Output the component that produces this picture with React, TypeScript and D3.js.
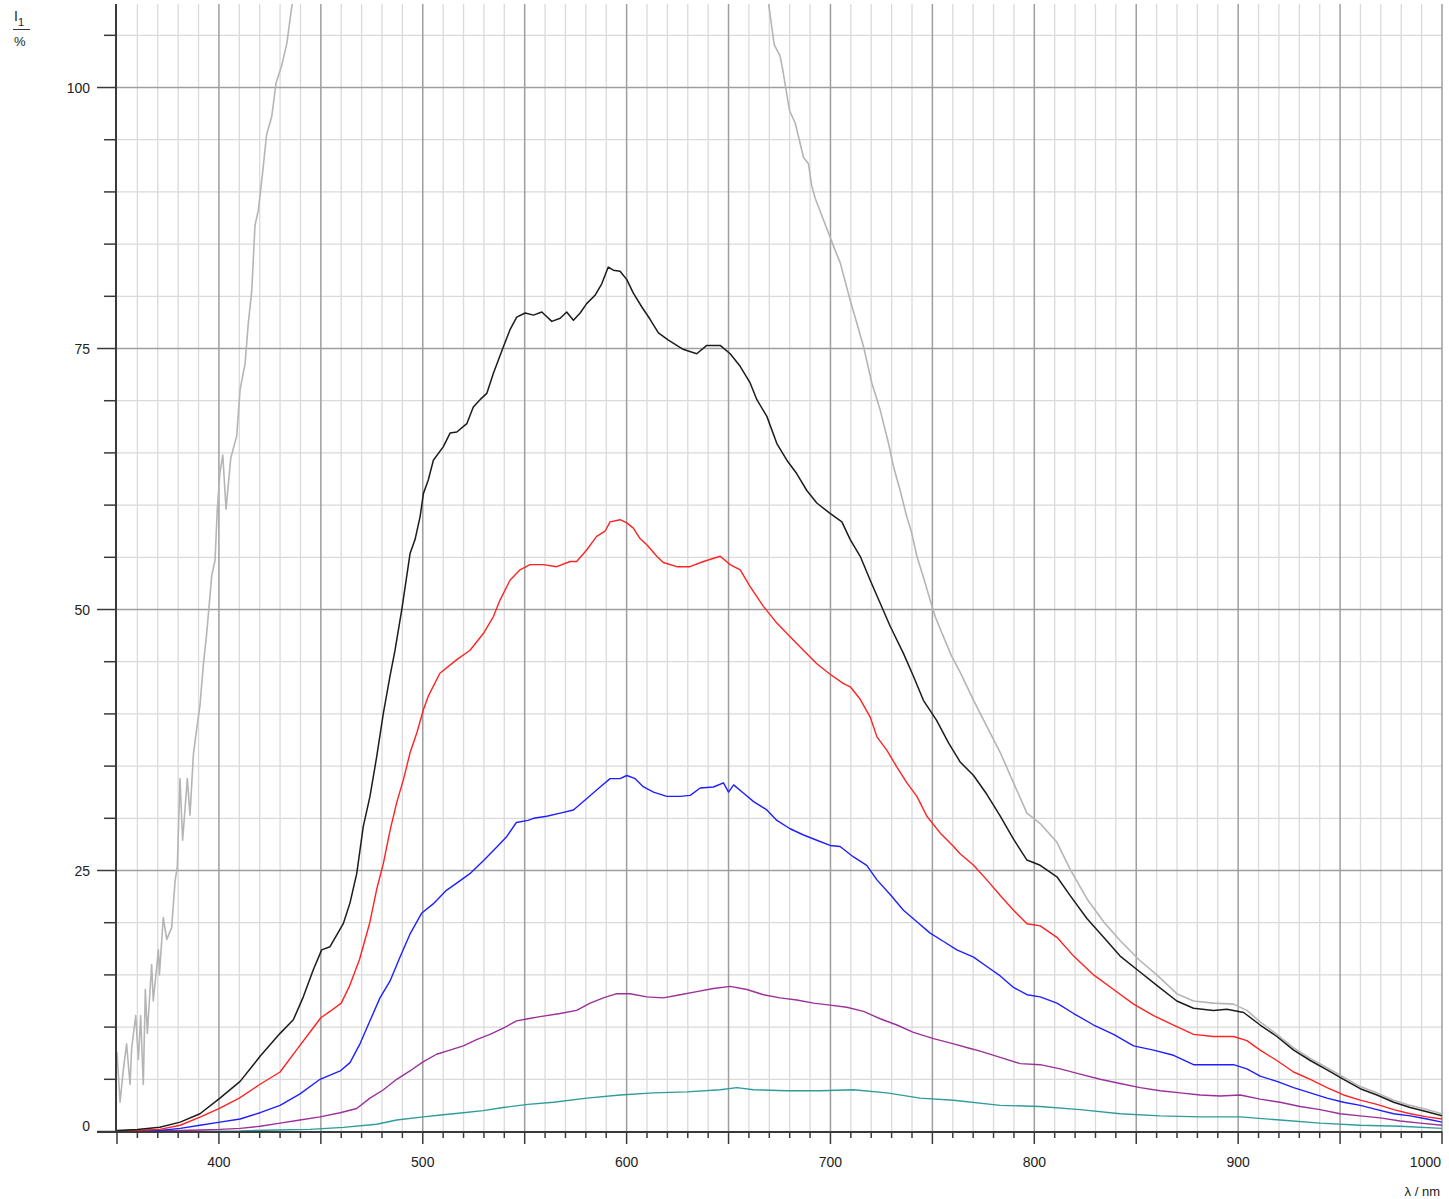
import React, { useEffect, useRef } from "react";
import * as d3 from "d3";

// Canvas / plot frame
const WIDTH = 1449;
const HEIGHT = 1199;
const PLOT_LEFT = 117;
const PLOT_RIGHT = 1442;
const PLOT_TOP = 4;
const PLOT_BOTTOM = 1131.5;
const FONT = "'Liberation Sans', Arial, sans-serif";

// Axis domains and tick labels
const X_DOMAIN: [number, number] = [350, 1000];
const Y_DOMAIN: [number, number] = [0, 108];
const xLabelTicks = [400, 500, 600, 700, 800, 900, 1000];
const yLabelTicks = [0, 25, 50, 75, 100];

type Pt = [number, number];

// Spectra, [wavelength nm, intensity %]
const graySpectrum: Pt[] = [
  [350, 7.6], [351.5, 2.8], [353.1, 5.9], [354.7, 8.4], [356.4, 4.5], [357.2, 8.0], [359.2, 11.1],
  [360.5, 6.9], [361.6, 11.1], [362.9, 4.5], [363.9, 13.6], [364.9, 9.4], [367, 16.0], [367.8, 12.5],
  [370.3, 17.4], [370.8, 15.0], [372.7, 20.5], [374.4, 18.4], [376.8, 19.5], [378.5, 24.0], [379.6, 25.4],
  [380.9, 33.8], [382.2, 27.9], [384.5, 33.8], [385.8, 30.3], [387.5, 36.2], [389.4, 39.0], [390.7, 40.8],
  [392.3, 44.6], [394, 47.7], [396.5, 53.3], [398.1, 54.7], [399.2, 59.6], [400.5, 63.1], [401.9, 64.8],
  [403.5, 59.6], [405.8, 64.5], [408.7, 66.6], [410.4, 71.1], [412.8, 73.5], [414.4, 77.4], [416.1, 80.5],
  [417.7, 86.8], [419.3, 88.2], [421.3, 91.6], [423.4, 95.5], [425.9, 97.2], [428, 100.4], [430.8, 102.1],
  [433.3, 104.2], [435.7, 107.7], [445, 118], [470, 135], [500, 148], [550, 158], [600, 158], [640, 140],
  [660, 120], [669.6, 108.1], [671.2, 105.8], [672.4, 104.1], [675.3, 103.0], [676.6, 101.7], [678.2, 99.8],
  [679.9, 97.8], [682.7, 96.6], [684.8, 94.9], [686.8, 93.3], [689.2, 92.7], [690.8, 90.6], [692.5, 89.4],
  [702.3, 84.4], [704.8, 83.2], [709.7, 79.6], [712.1, 78.0], [716.2, 75.2], [720.3, 71.7], [724.4, 69.1],
  [728.5, 65.9], [730.9, 63.7], [734.2, 61.4], [737.4, 58.9], [739.9, 57.3], [742.4, 55.1], [745.6, 53.1],
  [748.9, 50.9], [751.4, 49.3], [755.4, 47.4], [759.5, 45.5], [763.6, 44.0], [770.2, 41.3], [776.7, 38.8],
  [783.3, 36.3], [789.8, 33.4], [796.4, 30.5], [802.9, 29.5], [811.1, 27.7], [817.6, 25.1], [825.8, 22.3],
  [834, 20.1], [842.1, 18.3], [851.1, 16.5], [860.1, 15.0], [869.9, 13.2], [878.1, 12.5], [887.9, 12.3],
  [897.7, 12.2], [904.3, 11.6], [910.8, 10.5], [919, 9.3], [927.2, 8.0], [935.4, 7.0], [943.6, 6.1],
  [951.7, 5.2], [959.9, 4.3], [968.1, 3.7], [976.3, 3.0], [984.4, 2.5], [992.6, 2.1], [1000, 1.7],
];

const blackSpectrum: Pt[] = [
  [350, 0.1], [360, 0.2], [371, 0.4], [381, 0.9], [390.7, 1.7], [400.5, 3.2], [410.4, 4.8], [420.2, 7.2],
  [430, 9.4], [436.5, 10.7], [441.4, 12.9], [446.3, 15.5], [450.4, 17.4], [454.5, 17.7], [461, 19.9],
  [464.3, 21.9], [467.6, 24.7], [470.8, 29.2], [474.1, 32.1], [477.4, 35.9], [480.7, 40.1], [483.9, 43.6],
  [486.4, 46.1], [489.7, 50.0], [493.8, 55.4], [496.2, 56.7], [498.7, 58.9], [500.3, 61.1], [502.7, 62.4],
  [505.2, 64.3], [510.1, 65.6], [513.4, 66.9], [516.7, 67.0], [521.6, 67.8], [524.8, 69.4], [528.1, 70.1],
  [531.4, 70.7], [534.6, 72.6], [537.1, 73.9], [539.6, 75.2], [542.8, 76.8], [546.1, 78.0], [550.2, 78.4],
  [554.3, 78.2], [558.4, 78.5], [563.3, 77.6], [567.4, 77.9], [570.6, 78.5], [573.9, 77.7], [577.2, 78.4],
  [580.4, 79.3], [584.5, 80.1], [587.8, 81.2], [591.0, 82.8], [593.5, 82.5], [596.8, 82.4], [600.1, 81.6],
  [603.3, 80.3], [607.4, 79.0], [611.5, 77.8], [615.6, 76.5], [620.5, 75.8], [625.4, 75.2], [628, 74.9],
  [634.4, 74.5], [639.3, 75.3], [645.9, 75.3], [650.8, 74.5], [655.7, 73.3], [660.6, 71.7], [663.9, 70.1],
  [668.8, 68.5], [673.7, 65.9], [678.6, 64.3], [683.5, 63.0], [688.4, 61.4], [693.3, 60.2], [699.8, 59.2],
  [705.6, 58.4], [709.7, 56.7], [714.6, 55.1], [719.5, 52.8], [724.4, 50.6], [729.3, 48.4], [735.8, 45.8],
  [740.7, 43.6], [745.6, 41.3], [752, 39.4], [758, 37.2], [763.6, 35.4], [770.2, 34.1], [776.7, 32.3],
  [783.3, 30.2], [789.8, 28.0], [796.4, 26.0], [802.9, 25.5], [811.1, 24.4], [817.6, 22.6], [825.8, 20.4],
  [834, 18.6], [842.1, 16.8], [851.1, 15.4], [860.1, 14.0], [869.9, 12.5], [878.1, 11.8], [887.9, 11.6],
  [894.5, 11.7], [902.7, 11.4], [910.8, 10.2], [919, 9.1], [927.2, 7.8], [935.4, 6.8], [943.6, 5.9],
  [951.7, 5.0], [959.9, 4.1], [968.1, 3.5], [976.3, 2.8], [984.4, 2.3], [992.6, 1.9], [1000, 1.5],
];

const redSpectrum: Pt[] = [
  [350, 0.05], [371, 0.2], [381, 0.6], [391, 1.4], [400, 2.2], [410, 3.2], [420, 4.5], [430, 5.7],
  [438, 7.8], [445, 9.6], [450, 10.9], [454.5, 11.5], [460, 12.3], [464, 13.9], [469, 16.5], [474, 20.0],
  [477.4, 23.2], [480.7, 25.7], [484, 28.9], [487.2, 31.5], [490.5, 33.7], [493.8, 36.3], [497.1, 38.2],
  [500.3, 40.4], [502.7, 41.7], [508.4, 43.9], [516.7, 45.2], [523.2, 46.1], [529.7, 47.7], [534.6, 49.3],
  [537.9, 50.9], [542.8, 52.8], [547.7, 53.8], [552.6, 54.3], [559.2, 54.3], [565.7, 54.1], [572.3, 54.6],
  [575.5, 54.6], [580.4, 55.7], [585.3, 57.0], [589.4, 57.5], [591.9, 58.4], [596.8, 58.6], [600.1, 58.3],
  [603.3, 57.8], [606.6, 56.8], [609.9, 56.2], [614.8, 55.1], [618, 54.5], [624.6, 54.1], [631.1, 54.1],
  [637.7, 54.6], [645.9, 55.1], [650.8, 54.3], [655.7, 53.8], [660.6, 52.2], [667.1, 50.3], [673.7, 48.7],
  [680.2, 47.4], [686.7, 46.1], [693.3, 44.8], [699.8, 43.8], [706.4, 42.9], [709.7, 42.6], [714.6, 41.4],
  [719.5, 39.7], [722.8, 37.8], [727.7, 36.5], [732.6, 34.9], [737.5, 33.4], [742.4, 32.1], [747.3, 30.2],
  [753.8, 28.6], [760.4, 27.3], [763.6, 26.6], [770.2, 25.5], [776.7, 24.1], [783.3, 22.6], [789.8, 21.2],
  [796.4, 19.9], [802.9, 19.7], [811.1, 18.6], [819.3, 16.8], [829.1, 15.0], [838.9, 13.6], [848.7, 12.2],
  [858.5, 11.1], [868.3, 10.2], [878.1, 9.3], [887.9, 9.1], [897.7, 9.1], [904.3, 8.7], [910.8, 7.8],
  [919, 6.8], [927.2, 5.7], [935.4, 5.0], [943.6, 4.2], [951.7, 3.5], [959.9, 3.0], [968.1, 2.6],
  [976.3, 2.1], [984.4, 1.7], [992.6, 1.4], [1000, 1.2],
];

const blueSpectrum: Pt[] = [
  [350, 0.03], [371, 0.1], [381, 0.3], [390.7, 0.6], [400.5, 0.9], [410.4, 1.2], [420.2, 1.8], [430, 2.5],
  [439.8, 3.6], [449.6, 5.0], [459.5, 5.8], [464.3, 6.6], [469.2, 8.4], [474.1, 10.6], [479, 12.8],
  [483.9, 14.4], [488.8, 16.7], [493.7, 18.9], [499.4, 20.9], [505.1, 21.8], [511.6, 23.1], [518.2, 24.0],
  [523.1, 24.7], [529.6, 25.9], [536.1, 27.2], [541, 28.2], [545.9, 29.6], [551.6, 29.8], [554.3, 30.0],
  [560.8, 30.2], [567.4, 30.5], [573.9, 30.8], [580.5, 31.9], [587.0, 33.0], [591.9, 33.8], [596.8, 33.8],
  [600.1, 34.1], [604.2, 33.8], [608.3, 33.0], [613.2, 32.5], [619.7, 32.1], [626.3, 32.1], [631.2, 32.2],
  [636.1, 32.9], [642.6, 33.0], [647.5, 33.4], [650, 32.5], [652.5, 33.2], [657.4, 32.4], [662.3, 31.6],
  [668.8, 30.8], [673.7, 29.8], [680.2, 29.0], [686.8, 28.4], [693.3, 27.9], [699.8, 27.4], [704.7, 27.3],
  [711.3, 26.3], [717.8, 25.5], [722.8, 24.1], [729.3, 22.7], [735.8, 21.2], [742.4, 20.1], [748.9, 19.0],
  [755.5, 18.2], [762, 17.4], [770.2, 16.7], [776.7, 15.8], [783.3, 14.9], [789.8, 13.8], [796.4, 13.1],
  [802.9, 12.9], [811.1, 12.3], [819.3, 11.3], [829.1, 10.2], [838.9, 9.3], [848.7, 8.2], [858.5, 7.8],
  [868.3, 7.3], [878.1, 6.4], [887.9, 6.4], [897.7, 6.4], [904.3, 6.0], [910.8, 5.3], [919, 4.8],
  [927.2, 4.2], [935.4, 3.7], [943.6, 3.2], [951.7, 2.8], [959.9, 2.5], [968.1, 2.1], [976.3, 1.7],
  [984.4, 1.5], [992.6, 1.2], [1000, 0.9],
];

const purpleSpectrum: Pt[] = [
  [350, 0.0], [371, 0.05], [390.7, 0.15], [400.5, 0.2], [410.4, 0.3], [420.2, 0.5], [430, 0.8],
  [439.8, 1.1], [449.6, 1.4], [459.5, 1.8], [467.6, 2.2], [474.1, 3.2], [480.7, 4.0], [487.2, 5.0],
  [493.7, 5.8], [500.3, 6.7], [506.8, 7.4], [513.3, 7.8], [519.9, 8.2], [526.4, 8.8], [533, 9.3],
  [539.5, 9.9], [546, 10.6], [551.6, 10.8], [557.5, 11.0], [567.4, 11.3], [575.5, 11.6], [582.1, 12.3],
  [588.6, 12.8], [595.2, 13.2], [601.7, 13.2], [609.9, 12.9], [618.0, 12.8], [626.3, 13.1], [634.4, 13.4],
  [642.6, 13.7], [650.8, 13.9], [659, 13.6], [667.1, 13.1], [675.3, 12.8], [683.5, 12.6], [691.7, 12.3],
  [699.8, 12.1], [708.0, 11.9], [716.2, 11.5], [724.4, 10.8], [732.6, 10.2], [740.7, 9.5], [750.6, 8.9],
  [760.4, 8.4], [767.7, 8.0], [773.4, 7.7], [783.3, 7.1], [793.1, 6.5], [802.9, 6.4], [812.7, 6.0],
  [822.5, 5.5], [832.3, 5.0], [842.1, 4.6], [851.9, 4.2], [861.8, 3.9], [871.6, 3.7], [881.4, 3.5],
  [891.2, 3.4], [901, 3.5], [910.8, 3.1], [920.6, 2.8], [930.4, 2.4], [940.2, 2.1], [950, 1.7],
  [959.9, 1.5], [969.7, 1.3], [979.5, 1.0], [989.3, 0.8], [1000, 0.6],
];

const tealSpectrum: Pt[] = [
  [350, 0.0], [380, 0.02], [410.4, 0.05], [428, 0.15], [444.7, 0.2], [461, 0.4], [477.4, 0.7],
  [487.2, 1.1], [500.3, 1.4], [510.1, 1.6], [519.9, 1.8], [529.6, 2.0], [539.5, 2.3], [551.6, 2.6],
  [564.1, 2.8], [580.5, 3.2], [596.8, 3.5], [613.2, 3.7], [629.5, 3.8], [645.9, 4.0], [654.1, 4.2],
  [662.2, 4.0], [678.6, 3.9], [695, 3.9], [711.3, 4.0], [727.7, 3.7], [744, 3.2], [760.4, 3.0],
  [783.3, 2.5], [802.9, 2.4], [822.5, 2.1], [842.1, 1.7], [861.8, 1.5], [881.4, 1.4], [901, 1.4],
  [920.6, 1.1], [940.2, 0.8], [959.9, 0.6], [979.5, 0.5], [1000, 0.3],
];

const seriesList = [
  { name: "gray", data: graySpectrum, color: "#b5b5b5", width: 1.6 },
  { name: "teal", data: tealSpectrum, color: "#2e9c9c", width: 1.4 },
  { name: "purple", data: purpleSpectrum, color: "#9b309b", width: 1.4 },
  { name: "blue", data: blueSpectrum, color: "#1f1fff", width: 1.4 },
  { name: "red", data: redSpectrum, color: "#ff2222", width: 1.4 },
  { name: "black", data: blackSpectrum, color: "#1c1c1c", width: 1.5 },
];

export default function App() {
  const svgRef = useRef<SVGSVGElement | null>(null);

  useEffect(() => {
    drawChart();
  }, []);

  function drawChart() {
    const svg = d3.select(svgRef.current);
    svg.selectAll("*").remove();

    const x = d3.scaleLinear().domain(X_DOMAIN).range([PLOT_LEFT, PLOT_RIGHT]);
    const y = d3.scaleLinear().domain(Y_DOMAIN).range([PLOT_BOTTOM, PLOT_TOP]);

    svg.append("rect").attr("width", WIDTH).attr("height", HEIGHT).attr("fill", "#fff");

    // Grid: minor every 10 nm / 5 %, major every 50 nm / 25 %
    const xMinor = d3.range(350, 1001, 10).filter((v) => v % 50 !== 0);
    const xMajor = d3.range(350, 1001, 50);
    const yMinor = d3.range(5, 106, 5).filter((v) => v % 25 !== 0);
    const yMajor = d3.range(25, 101, 25);

    const grid = svg.append("g");
    grid.selectAll(".vminor").data(xMinor).enter().append("line")
      .attr("x1", (d) => x(d)).attr("x2", (d) => x(d))
      .attr("y1", PLOT_TOP).attr("y2", PLOT_BOTTOM)
      .attr("stroke", "#dadada").attr("stroke-width", 1.3);
    grid.selectAll(".hminor").data(yMinor).enter().append("line")
      .attr("x1", PLOT_LEFT).attr("x2", PLOT_RIGHT)
      .attr("y1", (d) => y(d)).attr("y2", (d) => y(d))
      .attr("stroke", "#dadada").attr("stroke-width", 1.3);
    grid.selectAll(".vmajor").data(xMajor.filter((v) => v !== 350)).enter().append("line")
      .attr("x1", (d) => x(d)).attr("x2", (d) => x(d))
      .attr("y1", PLOT_TOP).attr("y2", PLOT_BOTTOM)
      .attr("stroke", "#9e9e9e").attr("stroke-width", 1.5);
    grid.selectAll(".hmajor").data(yMajor).enter().append("line")
      .attr("x1", PLOT_LEFT).attr("x2", PLOT_RIGHT)
      .attr("y1", (d) => y(d)).attr("y2", (d) => y(d))
      .attr("stroke", "#9e9e9e").attr("stroke-width", 1.5);

    // Curves, clipped to the plot area
    svg.append("defs").append("clipPath").attr("id", "plot-clip")
      .append("rect")
      .attr("x", PLOT_LEFT).attr("y", PLOT_TOP)
      .attr("width", PLOT_RIGHT - PLOT_LEFT).attr("height", PLOT_BOTTOM - PLOT_TOP);

    const line = d3.line<Pt>().x((d) => x(d[0])).y((d) => y(d[1]));
    const curves = svg.append("g").attr("clip-path", "url(#plot-clip)");
    seriesList.forEach((s) => {
      curves.append("path")
        .attr("d", line(s.data))
        .attr("fill", "none")
        .attr("stroke", s.color)
        .attr("stroke-width", s.width)
        .attr("stroke-linejoin", "round");
    });

    // Axes
    const axisColor = "#3a3a3a";
    svg.append("line")
      .attr("x1", PLOT_LEFT - 1).attr("x2", PLOT_LEFT - 1)
      .attr("y1", PLOT_TOP).attr("y2", PLOT_BOTTOM + 1)
      .attr("stroke", axisColor).attr("stroke-width", 2);
    svg.append("line")
      .attr("x1", 97).attr("x2", PLOT_RIGHT)
      .attr("y1", PLOT_BOTTOM + 0.5).attr("y2", PLOT_BOTTOM + 0.5)
      .attr("stroke", axisColor).attr("stroke-width", 2);

    const yTicks = d3.range(0, 106, 5);
    svg.selectAll(".ytick").data(yTicks).enter().append("line")
      .attr("x1", (d) => (d % 25 === 0 ? 97 : 104)).attr("x2", PLOT_LEFT - 1)
      .attr("y1", (d) => y(d)).attr("y2", (d) => y(d))
      .attr("stroke", axisColor).attr("stroke-width", 1.5);

    const xTicks = d3.range(350, 1001, 10);
    svg.selectAll(".xtick").data(xTicks).enter().append("line")
      .attr("x1", (d) => x(d)).attr("x2", (d) => x(d))
      .attr("y1", PLOT_BOTTOM).attr("y2", (d) => (d % 50 === 0 ? 1144 : 1138))
      .attr("stroke", axisColor).attr("stroke-width", 1.5);

    // Tick labels
    svg.selectAll(".ylabel").data(yLabelTicks).enter().append("text")
      .attr("x", 90)
      .attr("y", (d) => y(d) + (d === 0 ? -6 : 0))
      .attr("dy", "0.36em")
      .attr("text-anchor", "end")
      .style("font-family", FONT).style("font-size", "14px").style("fill", "#222")
      .text((d) => d);

    svg.selectAll(".xlabel").data(xLabelTicks).enter().append("text")
      .attr("x", (d) => (d === 1000 ? 1441 : x(d)))
      .attr("y", 1167)
      .attr("text-anchor", (d) => (d === 1000 ? "end" : "middle"))
      .style("font-family", FONT).style("font-size", "14px").style("fill", "#222")
      .text((d) => d);

    // Axis titles
    svg.append("text")
      .attr("x", 1440).attr("y", 1196)
      .attr("text-anchor", "end")
      .style("font-family", FONT).style("font-size", "13px").style("fill", "#222")
      .text("λ / nm");

    const yTitle = svg.append("text")
      .attr("x", 14).attr("y", 21)
      .style("font-family", FONT).style("font-size", "14px").style("fill", "#222");
    yTitle.append("tspan").text("I");
    yTitle.append("tspan").attr("dy", 5).style("font-size", "11px").text("1");
    svg.append("line")
      .attr("x1", 13).attr("x2", 30).attr("y1", 29.5).attr("y2", 29.5)
      .attr("stroke", "#333").attr("stroke-width", 1);
    svg.append("text")
      .attr("x", 14).attr("y", 46)
      .style("font-family", FONT).style("font-size", "13px").style("fill", "#222")
      .text("%");
  }

  return (
    <div style={{ position: "absolute", left: 0, top: 0 }}>
      <svg ref={svgRef} width={WIDTH} height={HEIGHT} style={{ display: "block" }}></svg>
    </div>
  );
}
